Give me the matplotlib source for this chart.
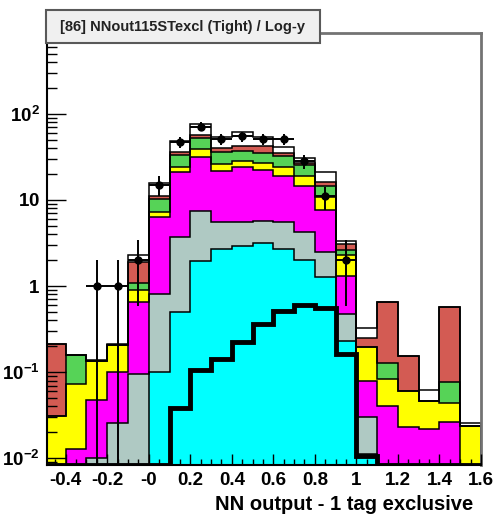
import numpy as np
import matplotlib
matplotlib.use("Agg")
import matplotlib.pyplot as plt
from matplotlib.patches import Rectangle

plt.rcParams['font.family'] = ['Liberation Sans', 'DejaVu Sans']
plt.rcParams['mathtext.fontset'] = 'custom'
plt.rcParams['mathtext.bf'] = 'Liberation Sans:bold'
plt.rcParams['mathtext.rm'] = 'Liberation Sans'
plt.rcParams['axes.unicode_minus'] = False

# bins of NN output, width 0.1
edges = np.round(np.arange(-0.5, 1.61, 0.1), 2)

# stacked totals (each entry = top of that layer)
stack_cyan    = [0, 0, 0, 0, 0, 0.1, 0.50, 1.98, 2.7, 2.95, 3.14, 2.7, 2.0, 1.26, 0.233, 0.0112, 0, 0, 0, 0, 0]
stack_gray    = [0, 0, 0.0101, 0.026, 0.095, 0.81, 3.76, 7.4, 5.5, 5.6, 5.76, 5.5, 4.2, 2.47, 0.48, 0.0305, 0, 0, 0, 0, 0]
stack_magenta = [0, 0.0129, 0.0477, 0.1, 0.65, 6.4, 21, 31.3, 21.9, 24, 22.4, 19, 14.7, 7.7, 1.32, 0.08, 0.04, 0.0233, 0.022, 0.0263, 0]
stack_yellow  = [0.031, 0.073, 0.135, 0.205, 0.89, 7.2, 24, 39, 26.5, 28, 26.7, 24.4, 19, 10.7, 2.32, 0.198, 0.0836, 0.06, 0.0468, 0.0435, 0.024]
stack_green   = [0.031, 0.16, 0.135, 0.205, 1.08, 10.3, 33.4, 52.6, 36, 37.5, 35, 32, 25.5, 14.7, 2.63, 0.198, 0.127, 0.06, 0.0468, 0.0763, 0.024]
stack_red     = [0.213, 0.16, 0.135, 0.205, 1.89, 11.2, 35.8, 57.5, 40, 42, 42, 35, 27, 16.2, 3.09, 0.25, 0.65, 0.156, 0.0468, 0.567, 0.024]
stack_white   = [0.213, 0.16, 0.14, 0.21, 2.3, 15.6, 49, 76, 54.5, 61, 54.5, 41, 31, 21, 3.37, 0.327, 0.65, 0.156, 0.0622, 0.567, 0.0255]

signal = [0, 0, 0, 0, 0, 0, 0.0385, 0.106, 0.143, 0.223, 0.363, 0.51, 0.61, 0.56, 0.163, 0.0107, 0, 0, 0, 0, 0]
data = [0, 0, 1, 1, 2, 15, 47, 71, 51, 55, 51, 51, 28, 11, 2, 0, 0, 0, 0, 0, 0]

xticks = [-0.4, -0.2, 0.0, 0.2, 0.4, 0.6, 0.8, 1.0, 1.2, 1.4, 1.6]
xticklabels = ['-0.4', '-0.2', '-0', '0.2', '0.4', '0.6', '0.8', '1', '1.2', '1.4', '1.6']
yticks = [1e-2, 1e-1, 1, 10, 100]
yticklabels = [r'$\mathbf{10^{-2}}$', r'$\mathbf{10^{-1}}$', r'$\mathbf{1}$', r'$\mathbf{10}$', r'$\mathbf{10^{2}}$']

ymin, ymax = 0.00835, 870
base = 1e-4

fig = plt.figure(figsize=(4.97, 5.16), dpi=100)
ax = fig.add_axes([47/497, 51/516, 434/497, 432/516])
ax.set_yscale('log')

layers = [
    (stack_white, 'white'),
    (stack_red, '#d35b53'),
    (stack_green, '#56d357'),
    (stack_yellow, '#ffff00'),
    (stack_magenta, '#ff00ff'),
    (stack_gray, '#afc9c3'),
    (stack_cyan, '#00ffff'),
]
for vals, col in layers:
    v = np.array(vals, dtype=float)
    v = np.where(v > 0, v, base)
    ax.stairs(v, edges, baseline=base, fill=True, color=col, zorder=1)
    ax.stairs(v, edges, baseline=base, color='black', lw=1.1, zorder=1.2)

sig = np.array(signal, dtype=float)
sig = np.where(sig > 0, sig, ymin)
ax.stairs(sig, edges, baseline=None, color='black', lw=3.5, zorder=3)

d = np.array(data, dtype=float)
centers = 0.5 * (edges[:-1] + edges[1:])
m = d > 0
ax.errorbar(centers[m], d[m], yerr=np.sqrt(d[m]), xerr=0.05, fmt='o', color='black',
            ms=5, lw=1.4, capsize=0, zorder=4)

ax.set_xlim(-0.49, 1.6)
ax.set_ylim(ymin, ymax)

ax.set_xticks(xticks)
ax.set_xticklabels(xticklabels, fontsize=13.5, fontweight='bold')
ax.set_xticks(np.round(np.arange(-0.45, 1.6, 0.05), 2), minor=True)
ax.set_yticks(yticks)
ax.set_yticklabels(yticklabels, fontsize=13.5)
ax.tick_params(axis='x', which='major', direction='in', length=8, width=1, pad=5)
ax.tick_params(axis='x', which='minor', direction='in', length=4, width=1)
ax.tick_params(axis='y', which='major', direction='in', length=14, width=1, pad=5)
ax.tick_params(axis='y', which='minor', direction='in', length=7, width=1)
ax.set_axisbelow(False)

for s in ['top', 'right']:
    ax.spines[s].set_color('0.45')
    ax.spines[s].set_linewidth(2)
for s in ['left', 'bottom']:
    ax.spines[s].set_color('black')
    ax.spines[s].set_linewidth(1.5)

fig.text(473/497, 1 - 505/516, 'NN output - 1 tag exclusive', ha='right', va='center',
         fontsize=14.5, fontweight='bold')

box = Rectangle((46/497, 1 - 43/516), 274/497, 33/516, transform=fig.transFigure,
                facecolor='#f0f0f0', edgecolor='0.35', lw=1.5, zorder=10)
fig.add_artist(box)
fig.text(183/497, 1 - 27/516, '[86] NNout115STexcl (Tight) / Log-y', ha='center', va='center',
         fontsize=10.5, fontweight='bold', color='#222222', zorder=11)

fig.savefig('out.png', dpi=100)
